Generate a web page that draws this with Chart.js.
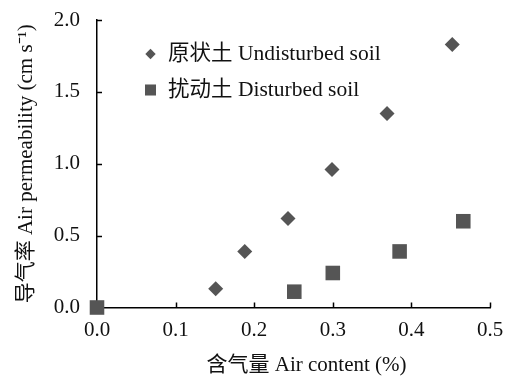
<!DOCTYPE html>
<html>
<head>
<meta charset="utf-8">
<script src="https://cdn.jsdelivr.net/npm/chart.js@4/dist/chart.umd.min.js"></script>
<style>
  html, body { margin: 0; padding: 0; background: #fff; }
  canvas { display: block; }
</style>
</head>
<body>
<canvas id="c" width="508" height="377"></canvas>
<script>
// Air permeability vs. air content for undisturbed and disturbed soil
const undisturbedLabel = '原状土 Undisturbed soil';
const undisturbedX = [0.151, 0.188, 0.243, 0.299, 0.369, 0.452];
const undisturbedY = [0.13, 0.39, 0.62, 0.96, 1.35, 1.83];

const disturbedLabel = '扰动土 Disturbed soil';
const disturbedX = [0.0, 0.251, 0.300, 0.385, 0.466];
const disturbedY = [0.0, 0.11, 0.24, 0.39, 0.60];

const xTitle = '含气量 Air content (%)';
const yTitle = '导气率 Air permeability (cm s⁻¹)';
const xRange = [0, 0.5];
const yRange = [0, 2.0];

const FONT = "'Liberation Serif', 'Times New Roman', 'Noto Sans CJK SC', serif";
const MARK = '#555555';

const toPoints = (xs, ys) => xs.map((x, i) => ({ x, y: ys[i] }));

// tick marks pointing into the plot area
const innerTicks = {
  id: 'innerTicks',
  beforeDatasetsDraw(chart) {
    const { ctx, scales: { x, y } } = chart;
    ctx.save();
    ctx.strokeStyle = '#000';
    ctx.lineWidth = 1.5;
    y.ticks.forEach(t => {
      if (t.value === 0) return;
      const py = Math.round(y.getPixelForValue(t.value)) + 0.5;
      ctx.beginPath();
      ctx.moveTo(x.left, py);
      ctx.lineTo(x.left + 5, py);
      ctx.stroke();
    });
    x.ticks.forEach(t => {
      if (t.value === 0) return;
      const px = Math.round(x.getPixelForValue(t.value)) + 0.5;
      ctx.beginPath();
      ctx.moveTo(px, y.bottom);
      ctx.lineTo(px, y.bottom - 5);
      ctx.stroke();
    });
    ctx.restore();
  }
};

// x-axis title, set slightly right of the plot centre
const xAxisTitle = {
  id: 'xAxisTitle',
  afterDraw(chart, args, opts) {
    const { ctx, chartArea } = chart;
    ctx.save();
    ctx.fillStyle = '#111';
    ctx.font = opts.font;
    ctx.textAlign = 'center';
    ctx.textBaseline = 'middle';
    ctx.fillText(opts.text, (chartArea.left + chartArea.right) / 2 + opts.shift, opts.y);
    ctx.restore();
  }
};

// legend drawn inside the plot area, upper left
const insideLegend = {
  id: 'insideLegend',
  afterDraw(chart, args, opts) {
    const ctx = chart.ctx;
    ctx.save();
    chart.data.datasets.forEach((ds, i) => {
      const cy = opts.top + i * opts.spacing;
      ctx.fillStyle = ds.backgroundColor;
      Chart.helpers.drawPoint(ctx, {
        pointStyle: ds.pointStyle,
        radius: opts.radius[i],
        rotation: 0,
        borderWidth: 0
      }, opts.x, cy);
      ctx.fillStyle = '#111';
      ctx.font = opts.font;
      ctx.textBaseline = 'middle';
      ctx.textAlign = 'left';
      ctx.fillText(ds.label, opts.textX, cy);
    });
    ctx.restore();
  }
};

new Chart(document.getElementById('c'), {
  type: 'scatter',
  data: {
    datasets: [
      {
        label: undisturbedLabel,
        data: toPoints(undisturbedX, undisturbedY),
        pointStyle: 'rectRot',
        pointRadius: 7.5,
        pointHoverRadius: 7.5,
        backgroundColor: MARK,
        borderWidth: 0,
        clip: false
      },
      {
        label: disturbedLabel,
        data: toPoints(disturbedX, disturbedY),
        pointStyle: 'rect',
        pointRadius: 10.3,
        pointHoverRadius: 10.3,
        backgroundColor: MARK,
        borderWidth: 0,
        clip: false
      }
    ]
  },
  options: {
    responsive: false,
    animation: false,
    events: [],
    layout: { autoPadding: false, padding: { left: 0, right: 18, top: 20, bottom: 0 } },
    plugins: {
      legend: { display: false },
      tooltip: { enabled: false },
      xAxisTitle: { text: xTitle, font: '21px ' + FONT, shift: 13, y: 365 },
      insideLegend: {
        x: 150.5, textX: 168, top: 54, spacing: 36,
        radius: [5.2, 7.8],
        font: '21.5px ' + FONT
      }
    },
    scales: {
      x: {
        type: 'linear',
        min: xRange[0], max: xRange[1],
        afterFit: s => { s.height = 69.5; s.paddingLeft = 0; s.paddingRight = 0; },
        border: { display: true, color: '#000', width: 1.5 },
        grid: { display: false, drawTicks: false },
        ticks: {
          stepSize: 0.1, padding: 10, color: '#111',
          font: { family: FONT, size: 21 },
          callback: v => v.toFixed(1)
        },
        title: { display: false }
      },
      y: {
        type: 'linear',
        min: yRange[0], max: yRange[1],
        afterFit: s => { s.width = 97; s.paddingTop = 0; s.paddingBottom = 0; },
        border: { display: true, color: '#000', width: 1.5 },
        grid: { display: false, drawTicks: false },
        ticks: {
          stepSize: 0.5, padding: 17, color: '#111',
          font: { family: FONT, size: 21 },
          callback: v => v.toFixed(1)
        },
        title: {
          display: true, text: yTitle, color: '#111',
          font: { family: FONT, size: 21 },
          padding: { top: 14, bottom: 0 }
        }
      }
    }
  },
  plugins: [innerTicks, xAxisTitle, insideLegend]
});
</script>
</body>
</html>
